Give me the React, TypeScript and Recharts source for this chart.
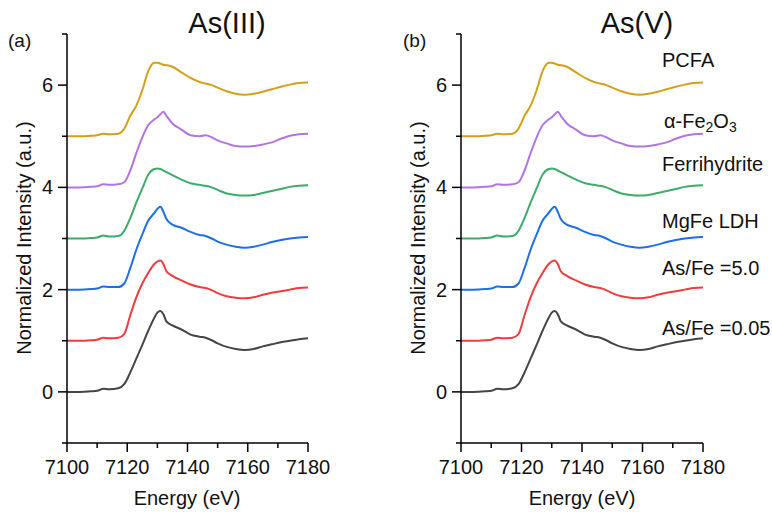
import { Line, LineChart, XAxis, YAxis } from "recharts";

// XANES spectra, normalized (before vertical offset)
const ENERGY = [
    7100, 7104, 7108, 7110, 7112, 7114, 7117, 7119, 7121, 7123, 7125, 7127, 7129, 7130, 7131, 7132, 7133,
    7135, 7138, 7141, 7144, 7146, 7148, 7150, 7153, 7156, 7159, 7162, 7165, 7168, 7171, 7174, 7177, 7180,
];
const AS_FE_005 = [
    0, 0, 0.01, 0.02, 0.06, 0.05, 0.07, 0.15, 0.38, 0.65, 0.92, 1.2, 1.45, 1.55, 1.58, 1.52, 1.38, 1.3,
    1.22, 1.12, 1.08, 1.06, 1.01, 0.95, 0.88, 0.84, 0.82, 0.84, 0.89, 0.93, 0.97, 1.0, 1.03, 1.05,
];
const AS_FE_50 = [
    0, 0, 0.01, 0.02, 0.06, 0.05, 0.06, 0.13, 0.5, 0.85, 1.12, 1.33, 1.5, 1.55, 1.57, 1.5, 1.36, 1.27,
    1.18, 1.1, 1.05, 1.03, 0.99, 0.93, 0.87, 0.84, 0.83, 0.85, 0.9, 0.94, 0.97, 1.0, 1.03, 1.04,
];
const MGFE_LDH = [
    0, 0, 0.01, 0.02, 0.06, 0.05, 0.05, 0.12, 0.42, 0.78, 1.08, 1.35, 1.5, 1.58, 1.62, 1.52, 1.38, 1.27,
    1.21, 1.13, 1.07, 1.05, 1.0, 0.94, 0.88, 0.84, 0.82, 0.84, 0.88, 0.93, 0.97, 1.0, 1.02, 1.03,
];
const FERRIHYDRITE = [
    0, 0, 0.01, 0.02, 0.06, 0.04, 0.05, 0.15, 0.4, 0.7, 0.98, 1.25, 1.36, 1.37, 1.36, 1.33, 1.3, 1.24,
    1.15, 1.08, 1.05, 1.03, 1.0, 0.95, 0.88, 0.85, 0.84, 0.85, 0.89, 0.93, 0.97, 1.01, 1.03, 1.04,
];
const HEMATITE = [
    0, 0, 0.01, 0.02, 0.06, 0.05, 0.06, 0.1, 0.33, 0.67, 0.98, 1.22, 1.33, 1.37, 1.43, 1.48, 1.4, 1.25,
    1.13, 1.02, 1.0, 1.02, 0.98, 0.92, 0.86, 0.81, 0.8, 0.81, 0.84, 0.88, 0.95, 1.01, 1.04, 1.05,
];
const PCFA = [
    0, 0, 0.01, 0.02, 0.05, 0.04, 0.05, 0.15, 0.4, 0.6, 0.9, 1.28, 1.44, 1.44, 1.42, 1.4, 1.39, 1.36,
    1.25, 1.14, 1.06, 1.03, 1.0, 0.95, 0.88, 0.83, 0.81, 0.83, 0.87, 0.92, 0.97, 1.01, 1.04, 1.05,
];

const OFFSETS = [0, 1, 2, 3, 4, 5];
const X_TICKS = [7100, 7110, 7120, 7130, 7140, 7150, 7160, 7170, 7180];
const Y_TICKS = [-1, 0, 1, 2, 3, 4, 5, 6, 7];

const SERIES = [
    { key: "s0", values: AS_FE_005, color: "#454545" },
    { key: "s1", values: AS_FE_50, color: "#f03c3c" },
    { key: "s2", values: MGFE_LDH, color: "#1d6fe8" },
    { key: "s3", values: FERRIHYDRITE, color: "#3dab69" },
    { key: "s4", values: HEMATITE, color: "#b274e4" },
    { key: "s5", values: PCFA, color: "#d4a017" },
];

const rows = ENERGY.map((e, i) => {
    const row: Record<string, number> = { e };
    SERIES.forEach((s, k) => {
        row[s.key] = s.values[i] + OFFSETS[k];
    });
    return row;
});

const FONT = "'Liberation Sans', Arial, sans-serif";

const YTick = ({ x, y, payload }: any) => {
    const major = payload.value % 2 === 0;
    const len = major ? 9 : 5;
    return (
        <g>
            <line x1={x - len} y1={y} x2={x} y2={y} stroke="#000" strokeWidth={1.5} />
            {major && (
                <text x={x - 14} y={y} dy={7} textAnchor="end" fontSize={20} fontFamily={FONT} fill="#111">
                    {payload.value}
                </text>
            )}
        </g>
    );
};

const XTick = ({ x, y, payload }: any) => {
    const major = (payload.value - 7100) % 20 === 0;
    const len = major ? 9 : 5;
    return (
        <g>
            <line x1={x} y1={y} x2={x} y2={y + len} stroke="#000" strokeWidth={1.5} />
            {major && (
                <text x={x} y={y + 31} textAnchor="middle" fontSize={20} fontFamily={FONT} fill="#111">
                    {payload.value}
                </text>
            )}
        </g>
    );
};

const Panel = ({ left, marginLeft, marginRight }: { left: number; marginLeft: number; marginRight: number }) => (
    <div style={{ position: "absolute", left, top: 0 }}>
        <LineChart
            width={386}
            height={512}
            data={rows}
            margin={{ top: 34, right: marginRight, bottom: 39, left: marginLeft }}
        >
            <XAxis
                dataKey="e"
                type="number"
                domain={[7100, 7180]}
                ticks={X_TICKS}
                interval={0}
                height={30}
                tickSize={0}
                tickMargin={0}
                tickLine={false}
                axisLine={{ stroke: "#000", strokeWidth: 1.5 }}
                tick={<XTick />}
            />
            <YAxis
                type="number"
                domain={[-1, 7]}
                ticks={Y_TICKS}
                interval={0}
                width={50}
                tickSize={0}
                tickMargin={0}
                tickLine={false}
                axisLine={{ stroke: "#000", strokeWidth: 1.5 }}
                tick={<YTick />}
            />
            {SERIES.map((s) => (
                <Line
                    key={s.key}
                    dataKey={s.key}
                    type="monotone"
                    stroke={s.color}
                    strokeWidth={2}
                    dot={false}
                    isAnimationActive={false}
                />
            ))}
        </LineChart>
    </div>
);

const LABELS = [
    { y: 67, text: "PCFA" },
    { y: 171, text: "Ferrihydrite" },
    { y: 228, text: "MgFe LDH" },
    { y: 275, text: "As/Fe =5.0" },
    { y: 335, text: "As/Fe =0.05" },
];

export default function App() {
    return (
        <div style={{ position: "absolute", left: 0, top: 0, width: 772, height: 512, background: "#fff" }}>
            <Panel left={0} marginLeft={17} marginRight={78} />
            <Panel left={386} marginLeft={25} marginRight={69} />
            <svg
                width={772}
                height={512}
                style={{ position: "absolute", left: 0, top: 0, pointerEvents: "none" }}
                fontFamily={FONT}
                fill="#111"
            >
                <text x={8} y={47} fontSize={19}>(a)</text>
                <text x={403} y={47} fontSize={19}>(b)</text>
                <text x={227} y={33} fontSize={29} textAnchor="middle">As(III)</text>
                <text x={637} y={33} fontSize={29} textAnchor="middle">As(V)</text>
                <text x={187} y={505} fontSize={20} textAnchor="middle">Energy (eV)</text>
                <text x={582} y={505} fontSize={20} textAnchor="middle">Energy (eV)</text>
                <text x={31} y={238} fontSize={20} textAnchor="middle" transform="rotate(-90 31 238)">
                    Normalized Intensity (a.u.)
                </text>
                <text x={425} y={238} fontSize={20} textAnchor="middle" transform="rotate(-90 425 238)">
                    Normalized Intensity (a.u.)
                </text>
                {LABELS.map((l) => (
                    <text key={l.text} x={662} y={l.y} fontSize={20}>
                        {l.text}
                    </text>
                ))}
                <text x={664} y={128} fontSize={20}>
                    α-Fe<tspan fontSize={14} dy={4}>2</tspan>
                    <tspan dy={-4}>O</tspan>
                    <tspan fontSize={14} dy={4}>3</tspan>
                </text>
            </svg>
        </div>
    );
}
